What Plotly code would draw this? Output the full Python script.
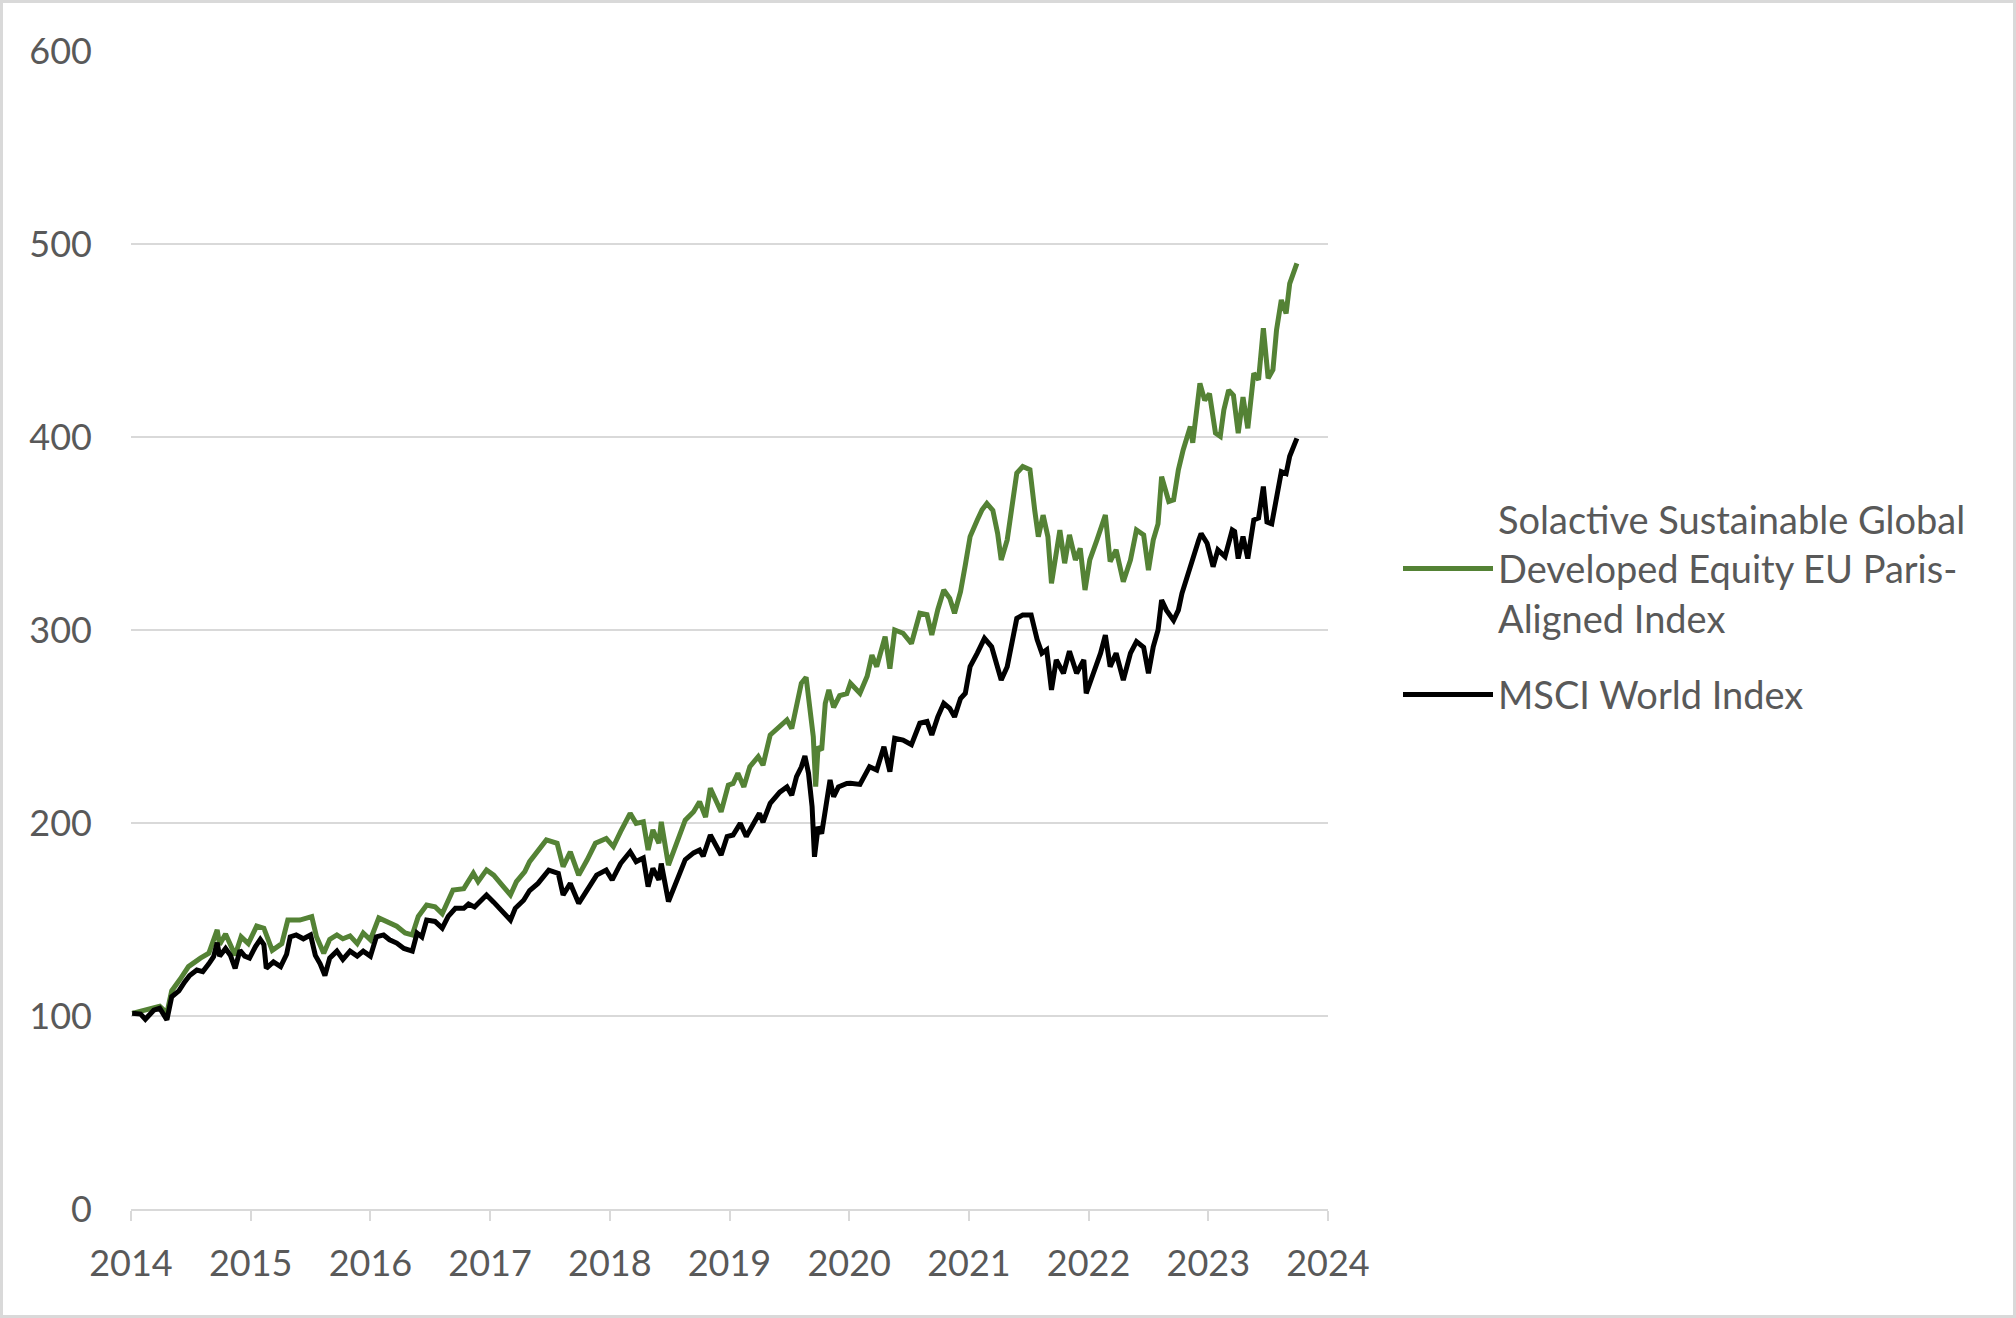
import plotly.graph_objects as go

# ---- data ----
green_name = "Solactive Sustainable Global<br>Developed Equity EU Paris-<br>Aligned Index"
black_name = "MSCI World Index"

green_x = [
    2014.01, 2014.24, 2014.30, 2014.34, 2014.41, 2014.48, 2014.58, 2014.65, 2014.72, 2014.74,
    2014.79, 2014.87, 2014.92, 2014.98, 2015.05, 2015.11, 2015.18, 2015.26, 2015.31, 2015.41,
    2015.51, 2015.55, 2015.61, 2015.66, 2015.72, 2015.77, 2015.83, 2015.89, 2015.94, 2016.00,
    2016.07, 2016.14, 2016.22, 2016.29, 2016.35, 2016.40, 2016.47, 2016.54, 2016.60, 2016.69,
    2016.78, 2016.86, 2016.90, 2016.97, 2017.03, 2017.10, 2017.17, 2017.22, 2017.29, 2017.33,
    2017.40, 2017.47, 2017.56, 2017.61, 2017.67, 2017.74, 2017.81, 2017.88, 2017.97, 2018.03,
    2018.09, 2018.17, 2018.22, 2018.28, 2018.32, 2018.36, 2018.41, 2018.43, 2018.49, 2018.56,
    2018.63, 2018.70, 2018.75, 2018.80, 2018.84, 2018.93, 2018.99, 2019.03, 2019.07, 2019.12,
    2019.17, 2019.24, 2019.28, 2019.34, 2019.42, 2019.48, 2019.52, 2019.56, 2019.60, 2019.64,
    2019.67, 2019.70, 2019.72, 2019.74, 2019.77, 2019.80, 2019.83, 2019.87, 2019.92, 2019.98,
    2020.01, 2020.09, 2020.15, 2020.19, 2020.23, 2020.30, 2020.34, 2020.38, 2020.45, 2020.52,
    2020.59, 2020.65, 2020.69, 2020.74, 2020.79, 2020.84, 2020.88, 2020.93, 2020.97, 2021.01,
    2021.07, 2021.11, 2021.15, 2021.20, 2021.24, 2021.27, 2021.32, 2021.36, 2021.40, 2021.45,
    2021.51, 2021.55, 2021.58, 2021.62, 2021.66, 2021.69, 2021.73, 2021.76, 2021.80, 2021.84,
    2021.89, 2021.93, 2021.97, 2022.01, 2022.07, 2022.14, 2022.18, 2022.23, 2022.29, 2022.35,
    2022.40, 2022.46, 2022.50, 2022.54, 2022.58, 2022.61, 2022.67, 2022.71, 2022.75, 2022.79,
    2022.85, 2022.87, 2022.93, 2022.97, 2023.01, 2023.06, 2023.10, 2023.13, 2023.17, 2023.21,
    2023.25, 2023.29, 2023.33, 2023.38, 2023.42, 2023.46, 2023.50, 2023.54, 2023.57, 2023.61,
    2023.65, 2023.68, 2023.74,
]
green_y = [
    101.4, 105, 101.5, 113, 119, 125.6, 130, 132.5, 144.6, 137,
    142.5, 131.5, 141, 137.5, 146.6, 145.5, 134, 137.5, 149.7, 149.7,
    151.5, 141, 132.5, 139.7, 142, 140, 141.5, 137.5, 143, 139.5,
    150.8, 149, 146.5, 143, 142, 151.6, 157.5, 156.6, 153, 165.3,
    166, 174, 169.6, 175.7, 173, 167.8, 162.7, 169.6, 174.8, 180,
    186, 191.2, 189.5, 177.4, 185, 173, 180.8, 189.5, 192, 187.8,
    195.5, 205, 199.8, 200.6, 186, 196.4, 189.5, 200.6, 178.2, 189.5,
    201.5, 205.8, 211, 203, 218, 205.8, 219.6, 220.5, 225.8, 218.7,
    229.2, 234.4, 230, 245.6, 250, 253.4, 249, 262, 272.4, 275.5,
    260.7, 244.7, 218.8, 239.5, 237.8, 262, 269, 259.9, 266, 267,
    272.4, 267.2, 276, 287, 281, 296.6, 280, 300, 298.3, 293,
    308.7, 308, 297.4, 310.5, 320.7, 316.4, 308.7, 319.8, 333.7, 348.4,
    357, 362.3, 365.6, 362, 350, 336.3, 346.7, 365.6, 381.3, 384.7,
    383, 362, 348.4, 359.5, 348.4, 324.2, 339.7, 351.8, 334.6, 349.3,
    336.3, 342.3, 320.7, 336.3, 346.7, 359.6, 335.5, 341.5, 325, 336.3,
    351.8, 349.3, 331, 346.6, 355, 379.5, 366.6, 367.4, 383, 393.3,
    405.4, 397, 427.8, 419, 422.5, 402, 400.3, 414, 424.3, 421.6,
    402, 420.7, 404.5, 433, 429.6, 456.3, 430.4, 434.8, 455.4, 471,
    464, 479.5, 490,
]

black_x = [
    2014.01, 2014.08, 2014.12, 2014.19, 2014.24, 2014.30, 2014.34, 2014.40, 2014.45, 2014.49,
    2014.55, 2014.60, 2014.65, 2014.69, 2014.72, 2014.74, 2014.79, 2014.83, 2014.87, 2014.91,
    2014.95, 2014.99, 2015.04, 2015.08, 2015.11, 2015.13, 2015.19, 2015.25, 2015.30, 2015.33,
    2015.38, 2015.44, 2015.50, 2015.54, 2015.58, 2015.62, 2015.66, 2015.72, 2015.77, 2015.83,
    2015.89, 2015.94, 2016.00, 2016.05, 2016.11, 2016.16, 2016.22, 2016.28, 2016.35, 2016.39,
    2016.43, 2016.47, 2016.54, 2016.60, 2016.65, 2016.71, 2016.78, 2016.82, 2016.87, 2016.92,
    2016.97, 2017.03, 2017.10, 2017.17, 2017.21, 2017.28, 2017.33, 2017.40, 2017.49, 2017.57,
    2017.61, 2017.67, 2017.74, 2017.81, 2017.89, 2017.97, 2018.02, 2018.09, 2018.17, 2018.22,
    2018.28, 2018.32, 2018.36, 2018.41, 2018.43, 2018.49, 2018.56, 2018.63, 2018.70, 2018.75,
    2018.78, 2018.84, 2018.93, 2018.98, 2019.03, 2019.09, 2019.14, 2019.20, 2019.25, 2019.28,
    2019.34, 2019.42, 2019.48, 2019.52, 2019.56, 2019.60, 2019.63, 2019.66, 2019.69, 2019.71,
    2019.74, 2019.77, 2019.80, 2019.84, 2019.87, 2019.91, 2019.98, 2020.01, 2020.09, 2020.17,
    2020.23, 2020.29, 2020.34, 2020.38, 2020.45, 2020.52, 2020.59, 2020.65, 2020.69, 2020.74,
    2020.79, 2020.84, 2020.88, 2020.93, 2020.97, 2021.01, 2021.07, 2021.13, 2021.19, 2021.23,
    2021.27, 2021.32, 2021.36, 2021.40, 2021.45, 2021.52, 2021.57, 2021.61, 2021.65, 2021.69,
    2021.73, 2021.79, 2021.84, 2021.90, 2021.96, 2021.98, 2022.04, 2022.10, 2022.14, 2022.18,
    2022.23, 2022.29, 2022.35, 2022.40, 2022.46, 2022.50, 2022.54, 2022.58, 2022.61, 2022.65,
    2022.71, 2022.75, 2022.78, 2022.83, 2022.87, 2022.92, 2022.94, 2022.99, 2023.04, 2023.08,
    2023.14, 2023.20, 2023.22, 2023.25, 2023.29, 2023.33, 2023.38, 2023.42, 2023.46, 2023.49,
    2023.53, 2023.57, 2023.61, 2023.65, 2023.68, 2023.74,
]
black_y = [
    101.4, 101, 98.3, 103, 104, 98, 110, 113, 117.8, 121,
    123.8, 123, 127, 130.7, 138, 131, 135, 131.5, 124.7, 134,
    131, 130, 136, 139.7, 137, 124.7, 128, 125.6, 132, 141,
    142, 140, 142, 131.4, 127, 121, 130, 133.6, 129.3, 133.6,
    131, 133.6, 131, 141, 142, 139.5, 137.8, 135, 133.6, 143,
    141, 149.7, 149, 145.5, 151.6, 155.8, 155.8, 158, 156.5, 160,
    162.7, 159, 154, 149.7, 155.8, 160, 165, 168.7, 175.6, 173.9,
    162.7, 168.7, 158.4, 165, 173, 175.6, 170.5, 179, 185.1, 180,
    181.9, 167, 176.5, 170.5, 179, 159.3, 170.5, 181, 184.5, 186,
    182.8, 193.8, 183.4, 193, 193.8, 199.8, 193, 199, 205, 200.4,
    210.2, 216, 218.7, 214.4, 224, 229, 234.7, 225.8, 208.5, 182.5,
    198, 194.5, 208.5, 222.3, 213.6, 218.7, 220.5, 220.6, 220, 229.2,
    227.5, 239.5, 226.6, 243.9, 243, 240.6, 251.7, 252.6, 245.6, 255,
    262, 259.4, 255, 264.5, 267.2, 281, 288, 295.7, 291.3, 282.8,
    274.1, 281, 295, 306, 307.8, 307.8, 295, 288, 289.8, 269,
    284.5, 277.6, 289, 277.6, 284.5, 267.2, 277.6, 288, 297.4, 281,
    288, 274, 288, 294, 291, 277.6, 291.3, 300, 315.5, 310.3,
    305, 310.3, 319, 329.4, 336, 346.6, 350, 345, 332.8, 341.5,
    338, 351.8, 351, 337, 348.4, 337, 357, 358, 374.3, 356,
    355, 369, 382, 381, 390, 399.3,
]

x_ticks = [2014, 2015, 2016, 2017, 2018, 2019, 2020, 2021, 2022, 2023, 2024]
y_ticks = [0, 100, 200, 300, 400, 500, 600]

GREEN = "#548235"
BLACK = "#000000"
GRID = "#d9d9d9"
TEXT = "#595959"
FONT = "Lato"

fig = go.Figure()
fig.add_trace(go.Scatter(x=green_x, y=green_y, mode="lines", name=green_name,
                         legendgroup="g", line=dict(color=GREEN, width=5)))
fig.add_trace(go.Scatter(x=black_x, y=black_y, mode="lines", name=black_name,
                         legendgroup="b", line=dict(color=BLACK, width=5)))

W, H = 2016, 1318
L, R, T, B = 131, 688, 51, 109
pw, ph = W - L - R, H - T - B

fig.update_layout(
    width=W, height=H,
    margin=dict(l=L, r=R, t=T, b=B, pad=0),
    paper_bgcolor="white", plot_bgcolor="white",
    font=dict(family=FONT, size=35, color=TEXT),
    showlegend=True,
    legend=dict(
        x=(1398 - L) / pw, xanchor="left",
        y=(H - B - 607) / ph, yanchor="middle",
        font=dict(family=FONT, size=38, color=TEXT),
        itemwidth=90,
        tracegroupgap=24, bgcolor="rgba(0,0,0,0)",
    ),
    xaxis=dict(
        range=[2014, 2024], tickmode="array", tickvals=x_ticks,
        ticktext=[str(v) for v in x_ticks],
        showgrid=False, zeroline=False,
        showline=True, linecolor=GRID, linewidth=2,
        ticks="outside", ticklen=10, tickwidth=2, tickcolor=GRID,
        ticklabelstandoff=12,
        tickfont=dict(family=FONT, size=36, color=TEXT),
    ),
    yaxis=dict(
        range=[0, 600], tickmode="array", tickvals=y_ticks,
        showgrid=True, gridcolor=GRID, gridwidth=2,
        zeroline=False, showline=False, ticks="",
        ticklabelstandoff=38,
        tickfont=dict(family=FONT, size=36, color=TEXT),
    ),
    shapes=[dict(
        type="rect", xref="paper", yref="paper", layer="above",
        x0=(1.5 - L) / pw, x1=(W - 1.5 - L) / pw,
        y0=(H - B - (H - 1.5)) / ph, y1=(H - B - 1.5) / ph,
        line=dict(color=GRID, width=3), fillcolor="rgba(0,0,0,0)",
    )],
)

fig.write_html(
    "out.html",
    config={"displayModeBar": False},
    post_script="document.body.style.margin='0';document.body.style.overflow='hidden';",
)
